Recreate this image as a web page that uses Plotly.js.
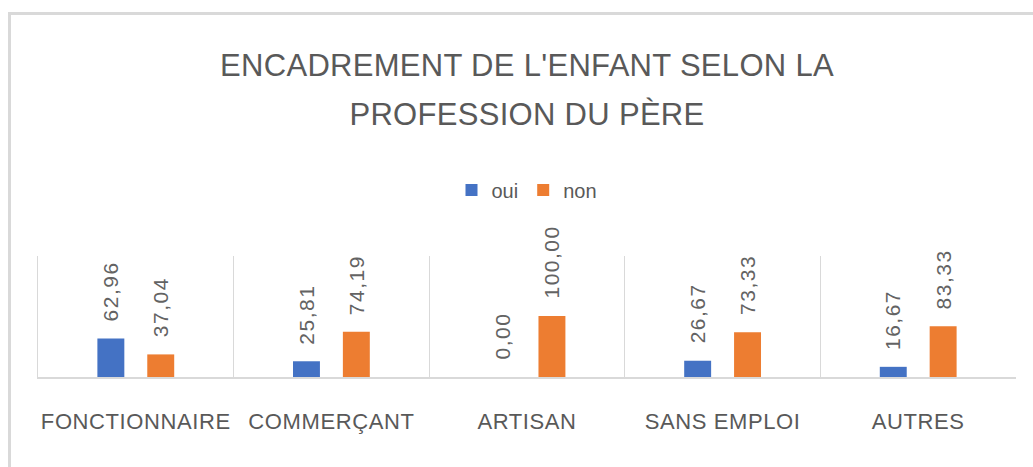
<!DOCTYPE html>
<html><head><meta charset="utf-8">
<script src="https://cdn.plot.ly/plotly-3.0.1.min.js"></script>
<style>
html,body{margin:0;padding:0;background:#fff;}
#wrap{position:relative;width:1033px;height:467px;overflow:hidden;background:#fff;}
#frame{position:absolute;left:8px;top:12px;width:1100px;height:520px;border:3px solid #d9d9d9;box-sizing:border-box;}
#chart{position:absolute;left:0;top:0;width:1033px;height:467px;}
.xtick text{letter-spacing:0.6px;}
.gtitle{letter-spacing:0.3px;}
.annotation-text{letter-spacing:1.5px;}
</style></head>
<body><div id="wrap"><div id="frame"></div><div id="chart"></div></div>
<script>
var categories = ['FONCTIONNAIRE', 'COMMERÇANT', 'ARTISAN', 'SANS EMPLOI', 'AUTRES'];
var seriesNames = ['oui', 'non'];
var oui = [62.96, 25.81, 0.00, 26.67, 16.67];
var non = [37.04, 74.19, 100.00, 73.33, 83.33];
var colors = ['#4472C4', '#ED7D31'];
var titleLines = ["ENCADREMENT DE L'ENFANT SELON LA", "PROFESSION DU PÈRE"];

var font = 'Liberation Sans, Arial, sans-serif';
var grey = '#595959';

function fmt(v) { return v.toFixed(2).replace('.', ','); }

var traces = [oui, non].map(function (vals, k) {
  return {
    type: 'bar', name: seriesNames[k], x: categories, y: vals,
    marker: {color: colors[k]}, hoverinfo: 'skip'
  };
});

var annotations = [];
[oui, non].forEach(function (vals, k) {
  vals.forEach(function (v, i) {
    annotations.push({
      x: categories[i], y: v, xref: 'x', yref: 'y',
      text: fmt(v), showarrow: false, textangle: -90,
      xanchor: 'center', yanchor: 'bottom',
      xshift: k === 0 ? -25 : 25, yshift: 15,
      font: {family: font, size: 21, color: '#636363'}
    });
  });
});

var layout = {
  width: 1033, height: 467,
  margin: {l: 38, r: 17, t: 256, b: 90},
  paper_bgcolor: 'rgba(0,0,0,0)', plot_bgcolor: 'rgba(0,0,0,0)',
  barmode: 'group', bargap: 0.49, bargroupgap: 0.46,
  title: {
    text: titleLines.map(function (s) { return '<span style="font-size:31px">' + s + '</span>'; }).join('<br>'),
    x: 0.5, xref: 'paper', xanchor: 'center',
    y: 1 - 76 / 467, yref: 'container', yanchor: 'top',
    font: {family: font, size: 38, color: grey}
  },
  showlegend: true,
  legend: {
    orientation: 'h', x: 0.5, xanchor: 'center', y: 1.545, yanchor: 'middle',
    font: {family: font, size: 20, color: grey}, bgcolor: 'rgba(0,0,0,0)'
  },
  xaxis: {
    type: 'category', showline: true, linecolor: '#d9d9d9', linewidth: 1.5,
    showgrid: true, gridcolor: '#d9d9d9', gridwidth: 1, tickson: 'boundaries',
    ticks: '', ticklabelstandoff: 24,
    tickfont: {family: font, size: 22, color: grey}, fixedrange: true
  },
  yaxis: {
    range: [0, 198.4], showgrid: false, zeroline: false,
    showline: true, linecolor: '#d9d9d9', linewidth: 1,
    showticklabels: false, ticks: '', fixedrange: true
  },
  annotations: annotations
};

Plotly.newPlot('chart', traces, layout, {displayModeBar: false, staticPlot: true});
</script>
</body></html>
